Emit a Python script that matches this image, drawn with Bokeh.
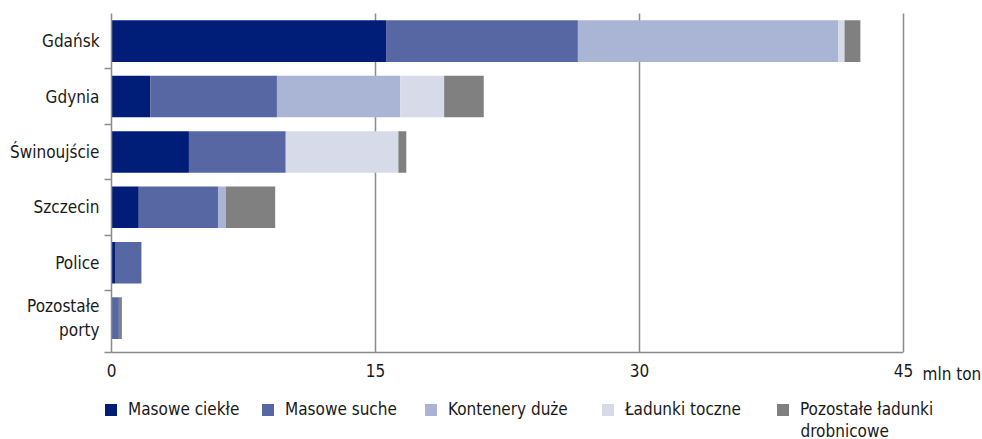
from bokeh.plotting import figure
from bokeh.models import (FixedTicker, Legend, LegendItem, Label, Range1d,
                          ColumnDataSource)
from bokeh.embed import file_html
from bokeh.resources import INLINE

FONT = "'Liberation Sans Narrow', 'DejaVu Sans Condensed', sans-serif"
FS = "17px"
TXT = "#1a1a1a"
AX = "#8C8C8C"

ports = ["Gdańsk", "Gdynia", "Świnoujście", "Szczecin", "Police", "Pozostałe\nporty"]
series = ["Masowe ciekłe", "Masowe suche", "Kontenery duże", "Ładunki toczne",
          "Pozostałe ładunki\ndrobnicowe"]
masowe_ciekle = [15.6, 2.2, 4.4, 1.55, 0.2, 0.0]
masowe_suche = [10.9, 7.2, 5.5, 4.5, 1.5, 0.42]
kontenery = [14.8, 7.0, 0.0, 0.45, 0.0, 0.0]
ladunki_toczne = [0.35, 2.5, 6.4, 0.0, 0.0, 0.0]
pozostale = [0.9, 2.25, 0.45, 2.8, 0.0, 0.17]
colors = ["#001E78", "#5767A3", "#AAB4D4", "#D7DBE9", "#808080"]
x_ticks = [0, 15, 30, 45]
unit = "mln ton"

n = len(ports)
centers = [n - i - 0.5 for i in range(n)]
keys = ["c", "s", "k", "t", "p"]
src = ColumnDataSource(dict(y=centers, c=masowe_ciekle, s=masowe_suche,
                            k=kontenery, t=ladunki_toczne, p=pozostale))

W, H = 982, 439
# pixel geometry (layout only)
x0_px, x45_px = 111, 903      # x = 0 and x = 45
ytop_px, y0_px = 12.9, 345.3  # y = n and y = 0
axis_px = 351.5               # position of the horizontal axis line
xs = (x45_px - x0_px) / x_ticks[-1]
ys = (y0_px - ytop_px) / n
y_axis_loc = -(axis_px - y0_px) / ys

p = figure(width=W, height=H, output_backend="svg", toolbar_location=None,
           x_range=Range1d(-x0_px / xs, x_ticks[-1] + (W - x45_px) / xs),
           y_range=Range1d(-(H - y0_px) / ys, n + ytop_px / ys),
           min_border=0)
p.outline_line_color = None
p.background_fill_color = "white"
p.grid.visible = False

# vertical grid lines between the axis and the top
g = x_ticks[1:]
p.segment(x0=g, x1=g, y0=[y_axis_loc] * len(g), y1=[n] * len(g),
          line_color=AX, line_width=1.5)

rs = p.hbar_stack(keys, y="y", height=0.75, color=colors, source=src,
                  line_color=None)

xa = p.xaxis[0]
xa.fixed_location = y_axis_loc
xa.bounds = (x_ticks[0], x_ticks[-1])
xa.ticker = FixedTicker(ticks=x_ticks)
xa.major_tick_out = 0
xa.major_tick_in = 0
xa.major_tick_line_color = None
xa.minor_tick_line_color = None
xa.axis_line_color = AX
xa.axis_line_width = 1.5
xa.major_label_text_font = FONT
xa.major_label_text_font_size = FS
xa.major_label_text_color = TXT
xa.major_label_standoff = 12

ya = p.yaxis[0]
ya.fixed_location = 0
ya.bounds = (y_axis_loc, n)
ya.ticker = FixedTicker(ticks=centers, minor_ticks=[y_axis_loc] + list(range(1, n)))
ya.major_label_overrides = {c: name for c, name in zip(centers, ports)}
ya.major_tick_out = 0
ya.major_tick_in = 0
ya.major_tick_line_color = None
ya.minor_tick_line_color = AX
ya.minor_tick_line_width = 1.5
ya.minor_tick_out = 7
ya.minor_tick_in = 0
ya.axis_line_color = AX
ya.axis_line_width = 1.5
ya.major_label_text_font = FONT
ya.major_label_text_font_size = FS
ya.major_label_text_color = TXT
ya.major_label_standoff = 5

p.add_layout(Label(x=x_ticks[-1], y=y_axis_loc, x_offset=19, y_offset=-12, text=unit,
                   text_align="left", text_baseline="top",
                   text_font=FONT, text_font_size=FS, text_color=TXT))

# one legend per entry, placed like the reference; a two-line name keeps its
# square level with the first line, the second line is set just below it
leg_x = [103, 260, 423, 600, 775]
leg_y = 20
for s, r, lx in zip(series, rs, leg_x):
    lines = s.split("\n")
    lg = Legend(items=[LegendItem(label=lines[0], renderers=[r])],
                orientation="horizontal", location=(lx, leg_y),
                glyph_width=15, glyph_height=15, label_standoff=10, spacing=0,
                padding=0, margin=0, border_line_color=None,
                background_fill_alpha=0,
                label_text_font=FONT, label_text_font_size=FS,
                label_text_color=TXT, label_height=18)
    p.add_layout(lg, "center")
    for k, extra in enumerate(lines[1:], start=1):
        p.add_layout(Label(x=lx + 25, y=leg_y + 10 - 21 * k, x_units="screen",
                           y_units="screen", text=extra, text_align="left",
                           text_baseline="middle", text_font=FONT,
                           text_font_size=FS, text_color=TXT))

open("out.html", "w").write(file_html(p, INLINE))
